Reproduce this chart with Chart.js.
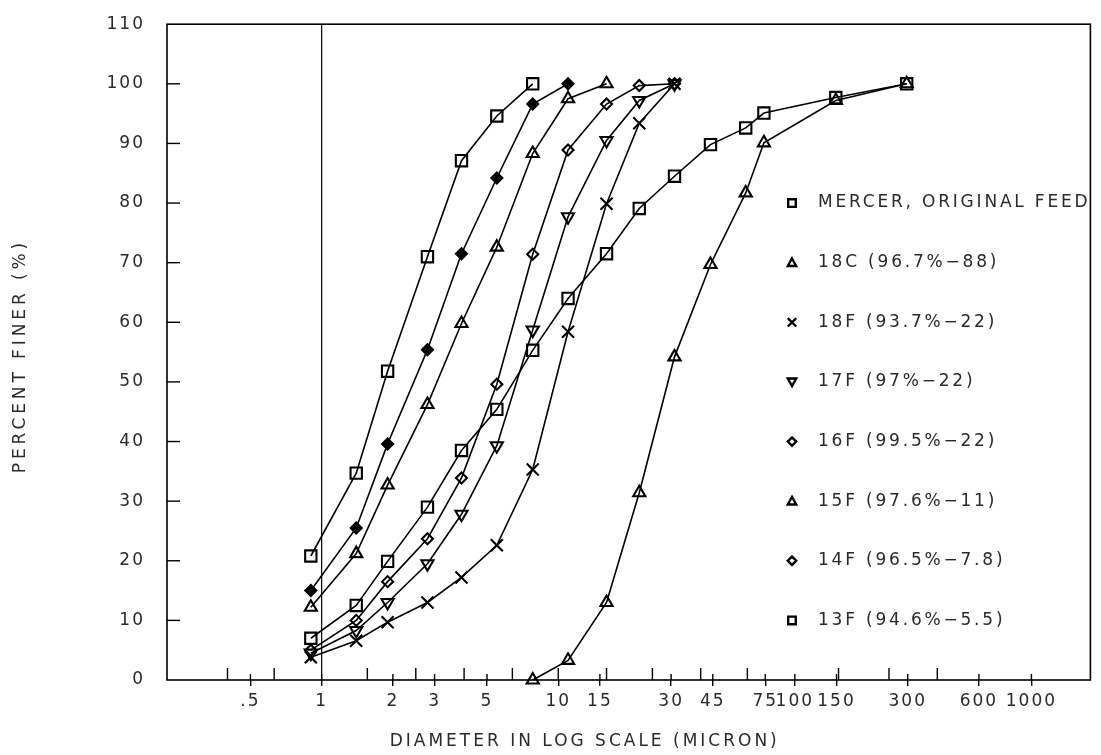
<!DOCTYPE html>
<html><head><meta charset="utf-8">
<script src="https://cdn.jsdelivr.net/npm/chart.js@4.4.1/dist/chart.umd.min.js"></script>
<style>html,body{margin:0;padding:0;background:#fff;}canvas{display:block;}</style>
</head><body>
<canvas id="c" width="1101" height="755"></canvas>
<script>
// particle diameters (micron) at which the curves were measured
const sizes = [0.9, 1.4, 1.9, 2.8, 3.9, 5.5, 7.8, 11, 16, 22, 31, 44, 62, 74, 149, 297];
// percent finer, each series starts at sizes[start]
const mercer = [7.0, 12.5, 19.9, 29.0, 38.5, 45.4, 55.3, 64.0, 71.5, 79.1, 84.5, 89.8, 92.6, 95.1, 97.7, 100];
const s18C = [0, 3.3, 13.0, 31.4, 54.2, 69.7, 81.7, 90.1, 97.2, 100];      // from 7.8
const s18F = [3.8, 6.6, 9.7, 13.0, 17.2, 22.6, 35.3, 58.4, 79.9, 93.4, 100];
const s17F = [4.5, 8.3, 13.0, 19.5, 27.8, 39.3, 58.7, 77.7, 90.5, 97.2, 100];
const s16F = [5.0, 10.0, 16.5, 23.7, 33.9, 49.6, 71.4, 88.9, 96.6, 99.7, 100];
const s15F = [12.2, 21.2, 32.7, 46.2, 59.8, 72.6, 88.3, 97.5, 100];
const s14F = [15.0, 25.5, 39.6, 55.4, 71.5, 84.2, 96.6, 100];
const s13F = [20.8, 34.7, 51.8, 71.0, 87.1, 94.6, 100];

const labels = ['MERCER, ORIGINAL FEED', '18C (96.7%\u221288)', '18F (93.7%\u221222)', '17F (97%\u221222)',
                '16F (99.5%\u221222)', '15F (97.6%\u221211)', '14F (96.5%\u22127.8)', '13F (94.6%\u22125.5)'];

const xTickValues = [0.5, 1, 2, 3, 5, 10, 15, 30, 45, 75, 100, 150, 300, 600, 1000];
const xMinorTicks = [0.4, 0.63, 1.56, 2.5, 4, 6.4, 10, 16, 25, 40, 63, 153, 250, 400];
const yTickValues = [0, 10, 20, 30, 40, 50, 60, 70, 80, 90, 100, 110];

const FONT = '"DejaVu Sans", "Liberation Sans", sans-serif';
const TXT = '#2a2a2a';

function ds(label, vals, start, style, rot, radius, filled) {
  return {
    label,
    data: vals.map((v, i) => ({ x: sizes[start + i], y: v })),
    borderColor: '#000', borderWidth: 1.6, tension: 0, fill: false, clip: false,
    pointStyle: style, pointRotation: rot, pointRadius: radius, pointHoverRadius: radius,
    pointBorderWidth: 2.1, pointBorderColor: '#000',
    pointBackgroundColor: filled ? '#000' : 'rgba(0,0,0,0)'
  };
}

const datasets = [
  ds(labels[0], mercer, 0, 'rect', 0, 8, false),
  ds(labels[1], s18C, 6, 'triangle', 0, 7, false),
  ds(labels[2], s18F, 0, 'crossRot', 0, 8.5, false),
  ds(labels[3], s17F, 0, 'triangle', 180, 7, false),
  ds(labels[4], s16F, 0, 'rectRot', 0, 5.5, false),
  ds(labels[5], s15F, 0, 'triangle', 0, 7, false),
  ds(labels[6], s14F, 0, 'rectRot', 0, 5.5, true),
  ds(labels[7], s13F, 0, 'rect', 0, 8, false)
];
const legendShapes = ['square', 'tri', 'x', 'tridown', 'diamond', 'tri', 'diamond', 'square'];

function line(ctx, x1, y1, x2, y2) { ctx.beginPath(); ctx.moveTo(x1, y1); ctx.lineTo(x2, y2); ctx.stroke(); }

function marker(ctx, shape, x, y, s) {
  ctx.beginPath();
  if (shape === 'square') { ctx.rect(x - s, y - s, 2 * s, 2 * s); }
  else if (shape === 'tri') { ctx.moveTo(x, y - s); ctx.lineTo(x + s, y + s * 0.8); ctx.lineTo(x - s, y + s * 0.8); ctx.closePath(); }
  else if (shape === 'tridown') { ctx.moveTo(x, y + s); ctx.lineTo(x + s, y - s * 0.8); ctx.lineTo(x - s, y - s * 0.8); ctx.closePath(); }
  else if (shape === 'diamond') { ctx.moveTo(x, y - s); ctx.lineTo(x + s, y); ctx.lineTo(x, y + s); ctx.lineTo(x - s, y); ctx.closePath(); }
  else if (shape === 'x') { ctx.moveTo(x - s, y - s); ctx.lineTo(x + s, y + s); ctx.moveTo(x + s, y - s); ctx.lineTo(x - s, y + s); }
  ctx.stroke();
}

const deco = {
  id: 'deco',
  beforeUpdate(chart) { chart.ctx.letterSpacing = '2px'; },
  beforeLayout(chart) { chart.ctx.letterSpacing = '2px'; },
  beforeDraw(chart) { chart.ctx.letterSpacing = '2px'; },
  beforeDatasetsDraw(chart) {
    const { ctx, chartArea: a, scales: { x, y } } = chart;
    ctx.save();
    ctx.strokeStyle = '#000';
    ctx.lineWidth = 1.6;
    ctx.strokeRect(a.left, a.top, a.right - a.left, a.bottom - a.top);
    ctx.lineWidth = 1.2;
    const p1 = x.getPixelForValue(1);
    line(ctx, p1, a.top, p1, a.bottom);
    ctx.lineWidth = 1.4;
    xTickValues.forEach(v => {
      if (v === 10) return;
      const p = x.getPixelForValue(v);
      line(ctx, p, a.bottom - 6, p, a.bottom);
    });
    xMinorTicks.forEach(v => {
      const p = x.getPixelForValue(v);
      line(ctx, p, a.bottom - 12, p, a.bottom);
    });
    yTickValues.forEach(v => {
      if (v === 0 || v === 110) return;
      const p = y.getPixelForValue(v);
      line(ctx, a.left, p, a.left + 13, p);
    });
    ctx.restore();
  },
  afterDraw(chart) {
    const { ctx, chartArea: a, scales: { y } } = chart;
    ctx.save();
    ctx.fillStyle = TXT;
    ctx.strokeStyle = '#000';
    ctx.font = '17px ' + FONT;
    ctx.textBaseline = 'middle';
    ctx.textAlign = 'left';
    // legend
    ctx.letterSpacing = '2.8px';
    labels.forEach((t, i) => {
      const py = y.getPixelForValue(80 - 10 * i);
      ctx.lineWidth = 2.4;
      marker(ctx, legendShapes[i], 792, py, legendShapes[i] === 'square' ? 3.8 : 4.2);
      ctx.fillText(t, 818, py);
    });
    // x title
    ctx.letterSpacing = '3px';
    ctx.textAlign = 'center';
    ctx.fillText('DIAMETER IN LOG SCALE (MICRON)', (a.left + a.right) / 2 - 44, 742);
    // y title
    ctx.letterSpacing = '3.9px';
    ctx.translate(21, (a.top + a.bottom) / 2 + 4);
    ctx.rotate(-Math.PI / 2);
    ctx.fillText('PERCENT FINER (%)', 0, 0);
    ctx.restore();
  }
};

new Chart(document.getElementById('c'), {
  type: 'line',
  data: { datasets },
  plugins: [deco],
  options: {
    responsive: false,
    animation: false,
    devicePixelRatio: 1,
    layout: { padding: { left: 0, right: 9, top: 17, bottom: 0 } },
    plugins: { legend: { display: false }, tooltip: { enabled: false } },
    scales: {
      x: {
        type: 'logarithmic',
        min: 0.222, max: 1775,
        afterBuildTicks: s => { s.ticks = xTickValues.map(v => ({ value: v })); },
        afterFit: s => { s.height = 75; },
        grid: { drawOnChartArea: false, drawTicks: true, tickLength: 6, color: '#000', lineWidth: 1.4 },
        border: { display: false },
        ticks: {
          autoSkip: false, maxRotation: 0, minRotation: 0, padding: 5, color: TXT,
          font: { family: FONT, size: 17 },
          callback: v => (v === 0.5 ? '.5' : String(v))
        }
      },
      y: {
        min: 0, max: 110,
        afterBuildTicks: s => { s.ticks = yTickValues.map(v => ({ value: v })); },
        afterFit: s => { s.width = 167; },
        grid: { display: false },
        border: { display: false },
        ticks: { padding: 14, color: TXT, font: { family: FONT, size: 17 } }
      }
    }
  }
});
</script>
</body></html>
